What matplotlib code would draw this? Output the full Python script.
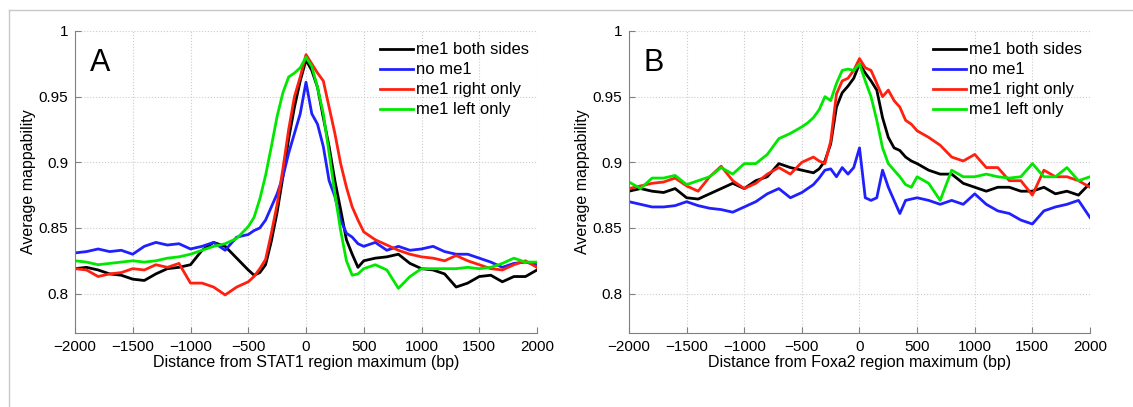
import matplotlib
matplotlib.use("Agg")
import matplotlib.pyplot as plt
from matplotlib.lines import Line2D

plt.rcParams['font.family'] = ['Liberation Sans', 'DejaVu Sans']

# distance grid (bp): every 100 bp in the flanks, every 50 bp near the peak
dist = list(range(-2000, -500, 100)) + list(range(-500, 501, 50)) + list(range(600, 2001, 100))

labels = ['me1 both sides', 'no me1', 'me1 right only', 'me1 left only']
colors = ['#000000', '#2020ff', '#ff2010', '#00e800']

# panel A - STAT1
stat1_both = [0.819, 0.820, 0.818, 0.815, 0.814, 0.811, 0.810, 0.815, 0.819, 0.820, 0.822, 0.833, 0.839, 0.836, 0.827,
              0.818, 0.814, 0.816, 0.822, 0.840, 0.862, 0.889, 0.918, 0.942, 0.962, 0.978,
              0.970, 0.957, 0.934, 0.912, 0.886, 0.864, 0.841, 0.830, 0.820, 0.825,
              0.827, 0.828, 0.830, 0.823, 0.819, 0.818, 0.815, 0.805, 0.808, 0.813, 0.814, 0.809, 0.813, 0.813, 0.818]
stat1_none = [0.831, 0.832, 0.834, 0.832, 0.833, 0.830, 0.836, 0.839, 0.837, 0.838, 0.834, 0.836, 0.839, 0.833, 0.843,
              0.845, 0.848, 0.850, 0.856, 0.866, 0.876, 0.889, 0.907, 0.922, 0.937, 0.961,
              0.937, 0.929, 0.912, 0.886, 0.874, 0.856, 0.846, 0.843, 0.838, 0.836,
              0.839, 0.833, 0.836, 0.833, 0.834, 0.836, 0.832, 0.830, 0.830, 0.827, 0.824, 0.820, 0.823, 0.824, 0.822]
stat1_right = [0.819, 0.818, 0.813, 0.815, 0.816, 0.819, 0.818, 0.822, 0.820, 0.823, 0.808, 0.808, 0.805, 0.799, 0.805,
               0.809, 0.813, 0.819, 0.826, 0.846, 0.868, 0.895, 0.925, 0.950, 0.965, 0.982,
               0.975, 0.968, 0.962, 0.942, 0.922, 0.899, 0.881, 0.866, 0.856, 0.847,
               0.841, 0.837, 0.833, 0.830, 0.828, 0.827, 0.825, 0.829, 0.825, 0.822, 0.819, 0.818, 0.822, 0.825, 0.820]
stat1_left = [0.825, 0.824, 0.822, 0.823, 0.824, 0.825, 0.824, 0.825, 0.827, 0.828, 0.830, 0.833, 0.836, 0.838, 0.842,
              0.851, 0.858, 0.872, 0.890, 0.912, 0.935, 0.953, 0.965, 0.968, 0.972, 0.980,
              0.973, 0.957, 0.937, 0.907, 0.876, 0.848, 0.825, 0.814, 0.815, 0.819,
              0.822, 0.818, 0.804, 0.813, 0.819, 0.819, 0.819, 0.819, 0.820, 0.819, 0.820, 0.823, 0.827, 0.824, 0.824]

# panel B - Foxa2
foxa2_both = [0.878, 0.880, 0.878, 0.877, 0.880, 0.873, 0.872, 0.876, 0.880, 0.884, 0.880, 0.886, 0.889, 0.899, 0.896,
              0.894, 0.893, 0.892, 0.895, 0.901, 0.914, 0.942, 0.953, 0.958, 0.964, 0.975,
              0.968, 0.962, 0.955, 0.934, 0.919, 0.911, 0.909, 0.904, 0.901, 0.899,
              0.894, 0.891, 0.891, 0.884, 0.881, 0.878, 0.881, 0.881, 0.878, 0.878, 0.881, 0.876, 0.878, 0.875, 0.884]
foxa2_none = [0.870, 0.868, 0.866, 0.866, 0.867, 0.870, 0.867, 0.865, 0.864, 0.862, 0.866, 0.870, 0.876, 0.880, 0.873,
              0.877, 0.880, 0.883, 0.888, 0.894, 0.895, 0.889, 0.896, 0.891, 0.896, 0.911,
              0.873, 0.871, 0.873, 0.894, 0.881, 0.871, 0.861, 0.871, 0.872, 0.873,
              0.871, 0.868, 0.871, 0.868, 0.876, 0.868, 0.863, 0.861, 0.856, 0.853, 0.863, 0.866, 0.868, 0.871, 0.858]
foxa2_right = [0.880, 0.882, 0.884, 0.885, 0.888, 0.882, 0.878, 0.889, 0.897, 0.886, 0.880, 0.884, 0.891, 0.896, 0.891,
               0.900, 0.902, 0.904, 0.901, 0.899, 0.916, 0.952, 0.962, 0.964, 0.970, 0.979,
               0.972, 0.970, 0.960, 0.950, 0.955, 0.947, 0.942, 0.932, 0.929, 0.924,
               0.919, 0.913, 0.904, 0.901, 0.906, 0.896, 0.896, 0.886, 0.886, 0.875, 0.894, 0.889, 0.889, 0.886, 0.881]
foxa2_left = [0.885, 0.880, 0.888, 0.888, 0.890, 0.883, 0.886, 0.889, 0.896, 0.891, 0.899, 0.899, 0.906, 0.918, 0.922,
              0.927, 0.930, 0.934, 0.940, 0.950, 0.947, 0.960, 0.970, 0.971, 0.970, 0.975,
              0.962, 0.950, 0.932, 0.911, 0.899, 0.894, 0.889, 0.883, 0.881, 0.889,
              0.884, 0.871, 0.894, 0.889, 0.889, 0.891, 0.889, 0.888, 0.889, 0.899, 0.889, 0.889, 0.896, 0.886, 0.889]

xticks = [-2000, -1500, -1000, -500, 0, 500, 1000, 1500, 2000]
yticks = [0.8, 0.85, 0.9, 0.95, 1.0]
ytick_labels = ['0.8', '0.85', '0.9', '0.95', '1']

fig = plt.figure(figsize=(11.33, 4.07), dpi=100)
axA = fig.add_axes([75 / 1133, 1 - 333 / 407, 462 / 1133, 302 / 407])
axB = fig.add_axes([629 / 1133, 1 - 333 / 407, 461 / 1133, 302 / 407])


def draw_panel(ax, series, letter, factor):
    for s, c, l in zip(series, colors, labels):
        ax.plot(dist, s, color=c, lw=2.0, label=l)
    ax.set_xlim(-2000, 2000)
    ax.set_ylim(0.77, 1.0)
    ax.set_xticks(xticks)
    ax.set_xticklabels([str(t).replace('-', '\u2212') for t in xticks])
    ax.set_yticks(yticks)
    ax.set_yticklabels(ytick_labels)
    ax.grid(True, linestyle=':', color='#cccccc', lw=0.8)
    for side in ['top', 'right']:
        ax.spines[side].set_visible(False)
    for side in ['left', 'bottom']:
        ax.spines[side].set_color('#808080')
    ax.tick_params(direction='in', length=4, color='#808080', labelsize=11, pad=5)
    ax.set_xlabel('Distance from %s region maximum (bp)' % factor, fontsize=11.5, labelpad=1)
    ax.set_ylabel('Average mappability', fontsize=11.5, labelpad=2)
    ax.text(-1784, 0.976, letter, fontsize=22, ha='center', va='center')
    ax.legend(loc='upper right', bbox_to_anchor=(1.0, 0.987), frameon=False, fontsize=12,
              handlelength=2.0, handletextpad=0.2, labelspacing=0.3, borderaxespad=0, borderpad=0.45)


draw_panel(axA, [stat1_both, stat1_none, stat1_right, stat1_left], 'A', 'STAT1')
draw_panel(axB, [foxa2_both, foxa2_none, foxa2_right, foxa2_left], 'B', 'Foxa2')

# thin grey frame along the top and left edge
fig.add_artist(Line2D([9 / 1133, 1], [1 - 10 / 407, 1 - 10 / 407], transform=fig.transFigure, color='#c8c8c8', lw=1))
fig.add_artist(Line2D([9 / 1133, 9 / 1133], [0, 1 - 10 / 407], transform=fig.transFigure, color='#c8c8c8', lw=1))

fig.savefig('out.png', dpi=100)
